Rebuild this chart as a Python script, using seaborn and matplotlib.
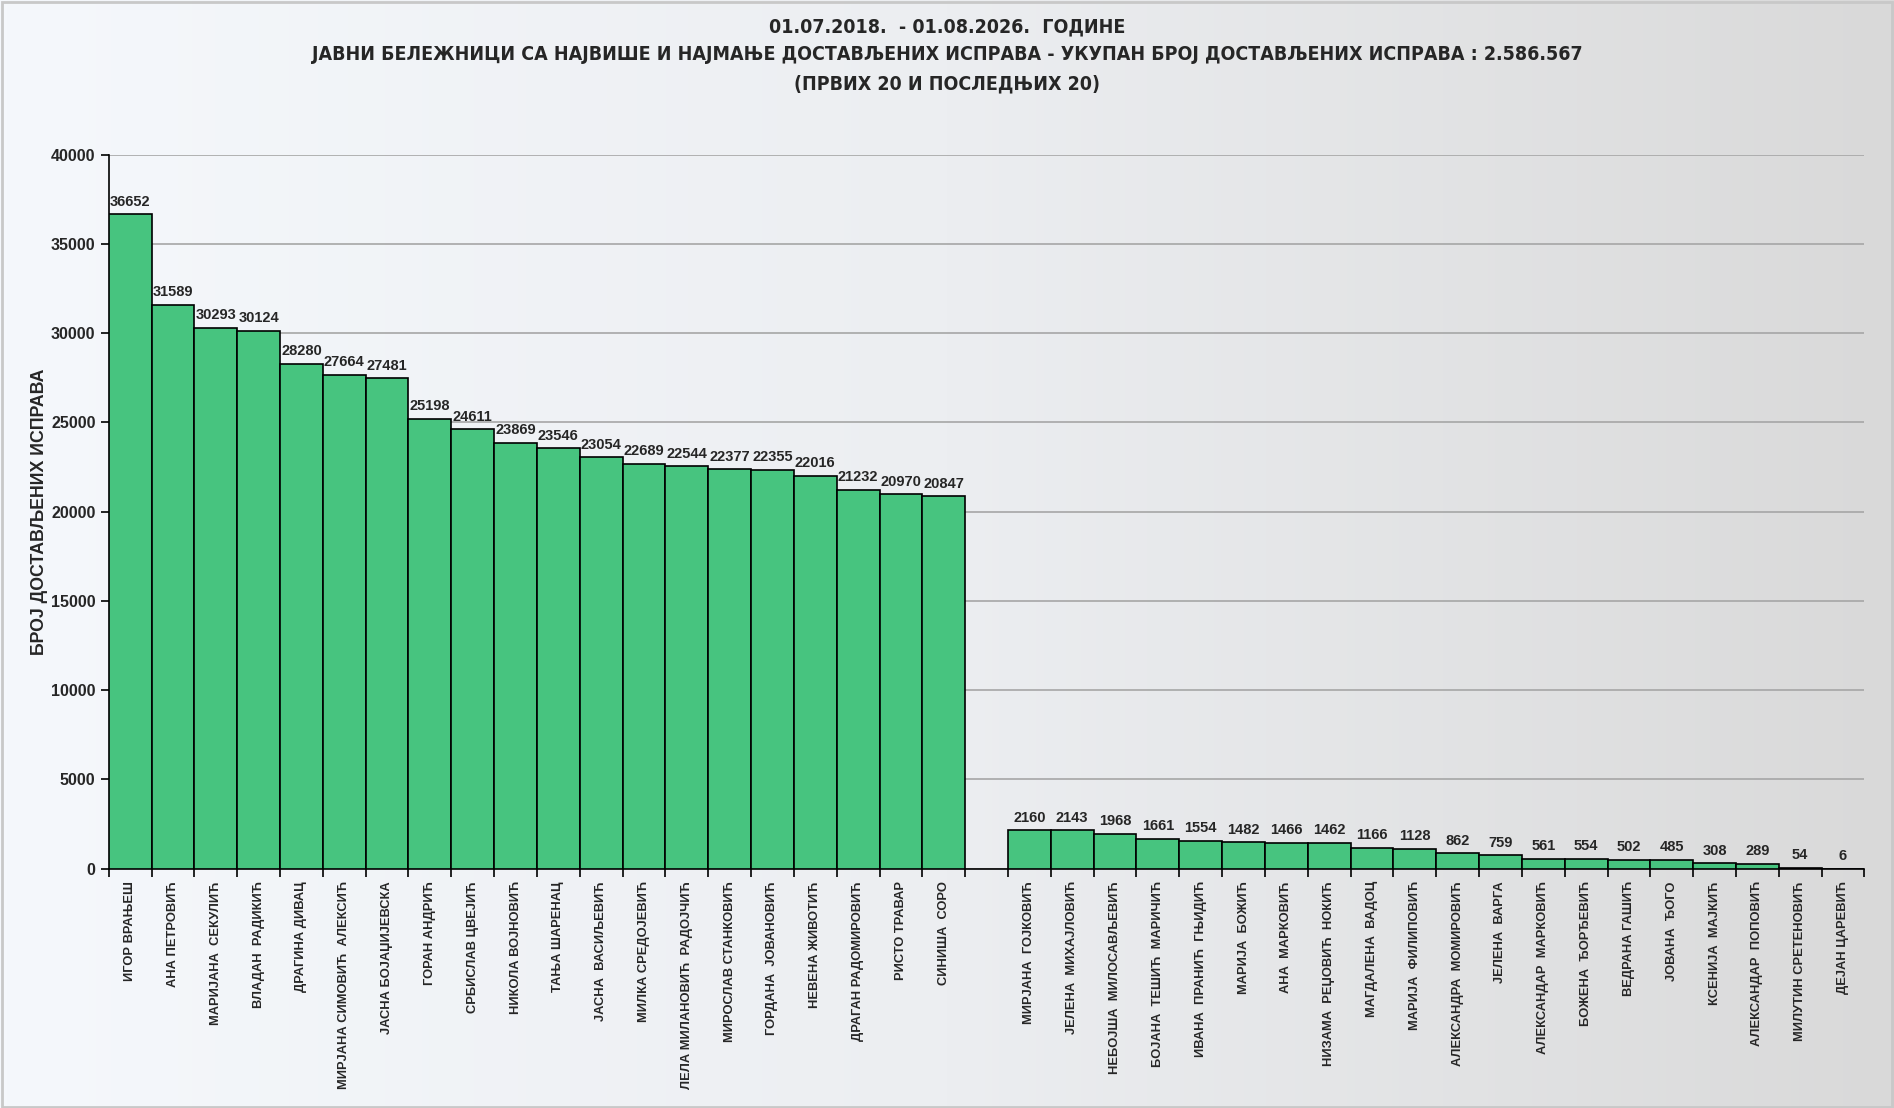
import numpy as np
import pandas as pd
import seaborn as sns
import matplotlib.pyplot as plt
from matplotlib.colors import LinearSegmentedColormap

# првих 20
top_names = [
    "ИГОР ВРАЊЕШ", "АНА ПЕТРОВИЋ", "МАРИЈАНА  СЕКУЛИЋ", "ВЛАДАН  РАДИКИЋ",
    "ДРАГИНА ДИВАЦ", "МИРЈАНА СИМОВИЋ  АЛЕКСИЋ", "ЈАСНА БОЈАЏИЈЕВСКА",
    "ГОРАН АНДРИЋ", "СРБИСЛАВ ЦВЕЈИЋ", "НИКОЛА ВОЈНОВИЋ", "ТАЊА ШАРЕНАЦ",
    "ЈАСНА  ВАСИЉЕВИЋ", "МИЛКА СРЕДОЈЕВИЋ", "ЛЕЛА МИЛАНОВИЋ  РАДОЈЧИЋ",
    "МИРОСЛАВ СТАНКОВИЋ", "ГОРДАНА  ЈОВАНОВИЋ", "НЕВЕНА ЖИВОТИЋ",
    "ДРАГАН РАДОМИРОВИЋ", "РИСТО ТРАВАР", "СИНИША  СОРО",
]
top_values = [36652, 31589, 30293, 30124, 28280, 27664, 27481, 25198, 24611, 23869,
              23546, 23054, 22689, 22544, 22377, 22355, 22016, 21232, 20970, 20847]

# последњих 20
bottom_names = [
    "МИРЈАНА  ГОЈКОВИЋ", "ЈЕЛЕНА  МИХАЈЛОВИЋ", "НЕБОЈША  МИЛОСАВЉЕВИЋ",
    "БОЈАНА  ТЕШИЋ  МАРИЧИЋ", "ИВАНА  ПРАНИЋ  ГЊИДИЋ", "МАРИЈА  БОЖИЋ",
    "АНА  МАРКОВИЋ", "НИЗАМА  РЕЏОВИЋ  НОКИЋ", "МАГДАЛЕНА  ВАДОЦ",
    "МАРИЈА  ФИЛИПОВИЋ", "АЛЕКСАНДРА  МОМИРОВИЋ", "ЈЕЛЕНА  ВАРГА",
    "АЛЕКСАНДАР  МАРКОВИЋ", "БОЖЕНА  ЂОРЂЕВИЋ", "ВЕДРАНА ГАШИЋ", "ЈОВАНА  ЂОГО",
    "КСЕНИЈА  МАЈКИЋ", "АЛЕКСАНДАР  ПОПОВИЋ", "МИЛУТИН СРЕТЕНОВИЋ", "ДЕЈАН ЦАРЕВИЋ",
]
bottom_values = [2160, 2143, 1968, 1661, 1554, 1482, 1466, 1462, 1166, 1128,
                 862, 759, 561, 554, 502, 485, 308, 289, 54, 6]

title_lines = [
    "01.07.2018.  - 01.08.2026.  ГОДИНЕ",
    "ЈАВНИ БЕЛЕЖНИЦИ СА НАЈВИШЕ И НАЈМАЊЕ ДОСТАВЉЕНИХ ИСПРАВА - УКУПАН БРОЈ ДОСТАВЉЕНИХ ИСПРАВА : 2.586.567",
    "(ПРВИХ 20 И ПОСЛЕДЊИХ 20)",
]
y_title = "БРОЈ ДОСТАВЉЕНИХ ИСПРАВА"

gap = " "
order = top_names + [gap] + bottom_names
df = pd.DataFrame({"name": top_names + bottom_names,
                   "value": top_values + bottom_values})

sns.set_style("white")
plt.rcParams["font.family"] = ["Liberation Sans", "DejaVu Sans"]

fig = plt.figure(figsize=(18.94, 11.08), dpi=100)

# позадина са преливом
bg = fig.add_axes([0, 0, 1, 1], zorder=-10)
grad = np.linspace(0, 1, 256)[None, :]
cmap = LinearSegmentedColormap.from_list("bg", ["#f5f8fc", "#eceef1", "#d9d9d9"])
bg.imshow(grad, aspect="auto", cmap=cmap, extent=[0, 1, 0, 1])
bg.add_patch(plt.Rectangle((0.001, 0.001), 0.998, 0.997, fill=False,
                           edgecolor="#c8c8c8", lw=2, transform=bg.transAxes))
bg.axis("off")

ax = fig.add_axes([0.0574, 0.216, 0.927, 0.6445])
ax.set_facecolor("none")
sns.barplot(data=df, x="name", y="value", order=order, color="#47c47f",
            saturation=1, width=1.0, edgecolor="black", linewidth=1.2, ax=ax,
            zorder=3)

ax.set_ylim(0, 40000)
ax.set_yticks(np.arange(0, 40001, 5000))
ax.yaxis.grid(True, color="#a6a6a6", lw=1.2, zorder=0)
ax.set_axisbelow(True)
ax.set_xlim(-0.5, len(order) - 0.5)

for c in ax.containers:
    ax.bar_label(c, fmt="%d", padding=4, fontsize=10.5, fontweight="bold", zorder=5)

sns.despine(ax=ax, top=True, right=True)
for s in ["left", "bottom"]:
    ax.spines[s].set_color("black")
    ax.spines[s].set_linewidth(1.2)

ax.set_xticks(range(len(order)))
ax.set_xticklabels(order, rotation=90, fontsize=9.3, fontweight="bold",
                   va="top", ha="center")
ax.set_xticks(np.arange(-0.5, len(order), 1), minor=True)
ax.tick_params(axis="x", which="major", length=0, pad=9)
ax.tick_params(axis="x", which="minor", length=6, width=1.2, color="black",
               direction="out", bottom=True)
ax.tick_params(axis="y", length=6, width=1.2, color="black", direction="out",
               left=True, labelsize=11.5)
for t in ax.get_yticklabels():
    t.set_fontweight("bold")

ax.set_xlabel("")
ax.set_ylabel(y_title, fontsize=12.8, fontweight="bold", labelpad=2)

for line, y in zip(title_lines, [0.976, 0.951, 0.924]):
    fig.text(0.5, y, line, ha="center", va="center", fontsize=14,
             fontweight="bold", fontstretch="condensed",
             family=["Liberation Sans Narrow", "DejaVu Sans"])

fig.savefig("out.png", dpi=100)
